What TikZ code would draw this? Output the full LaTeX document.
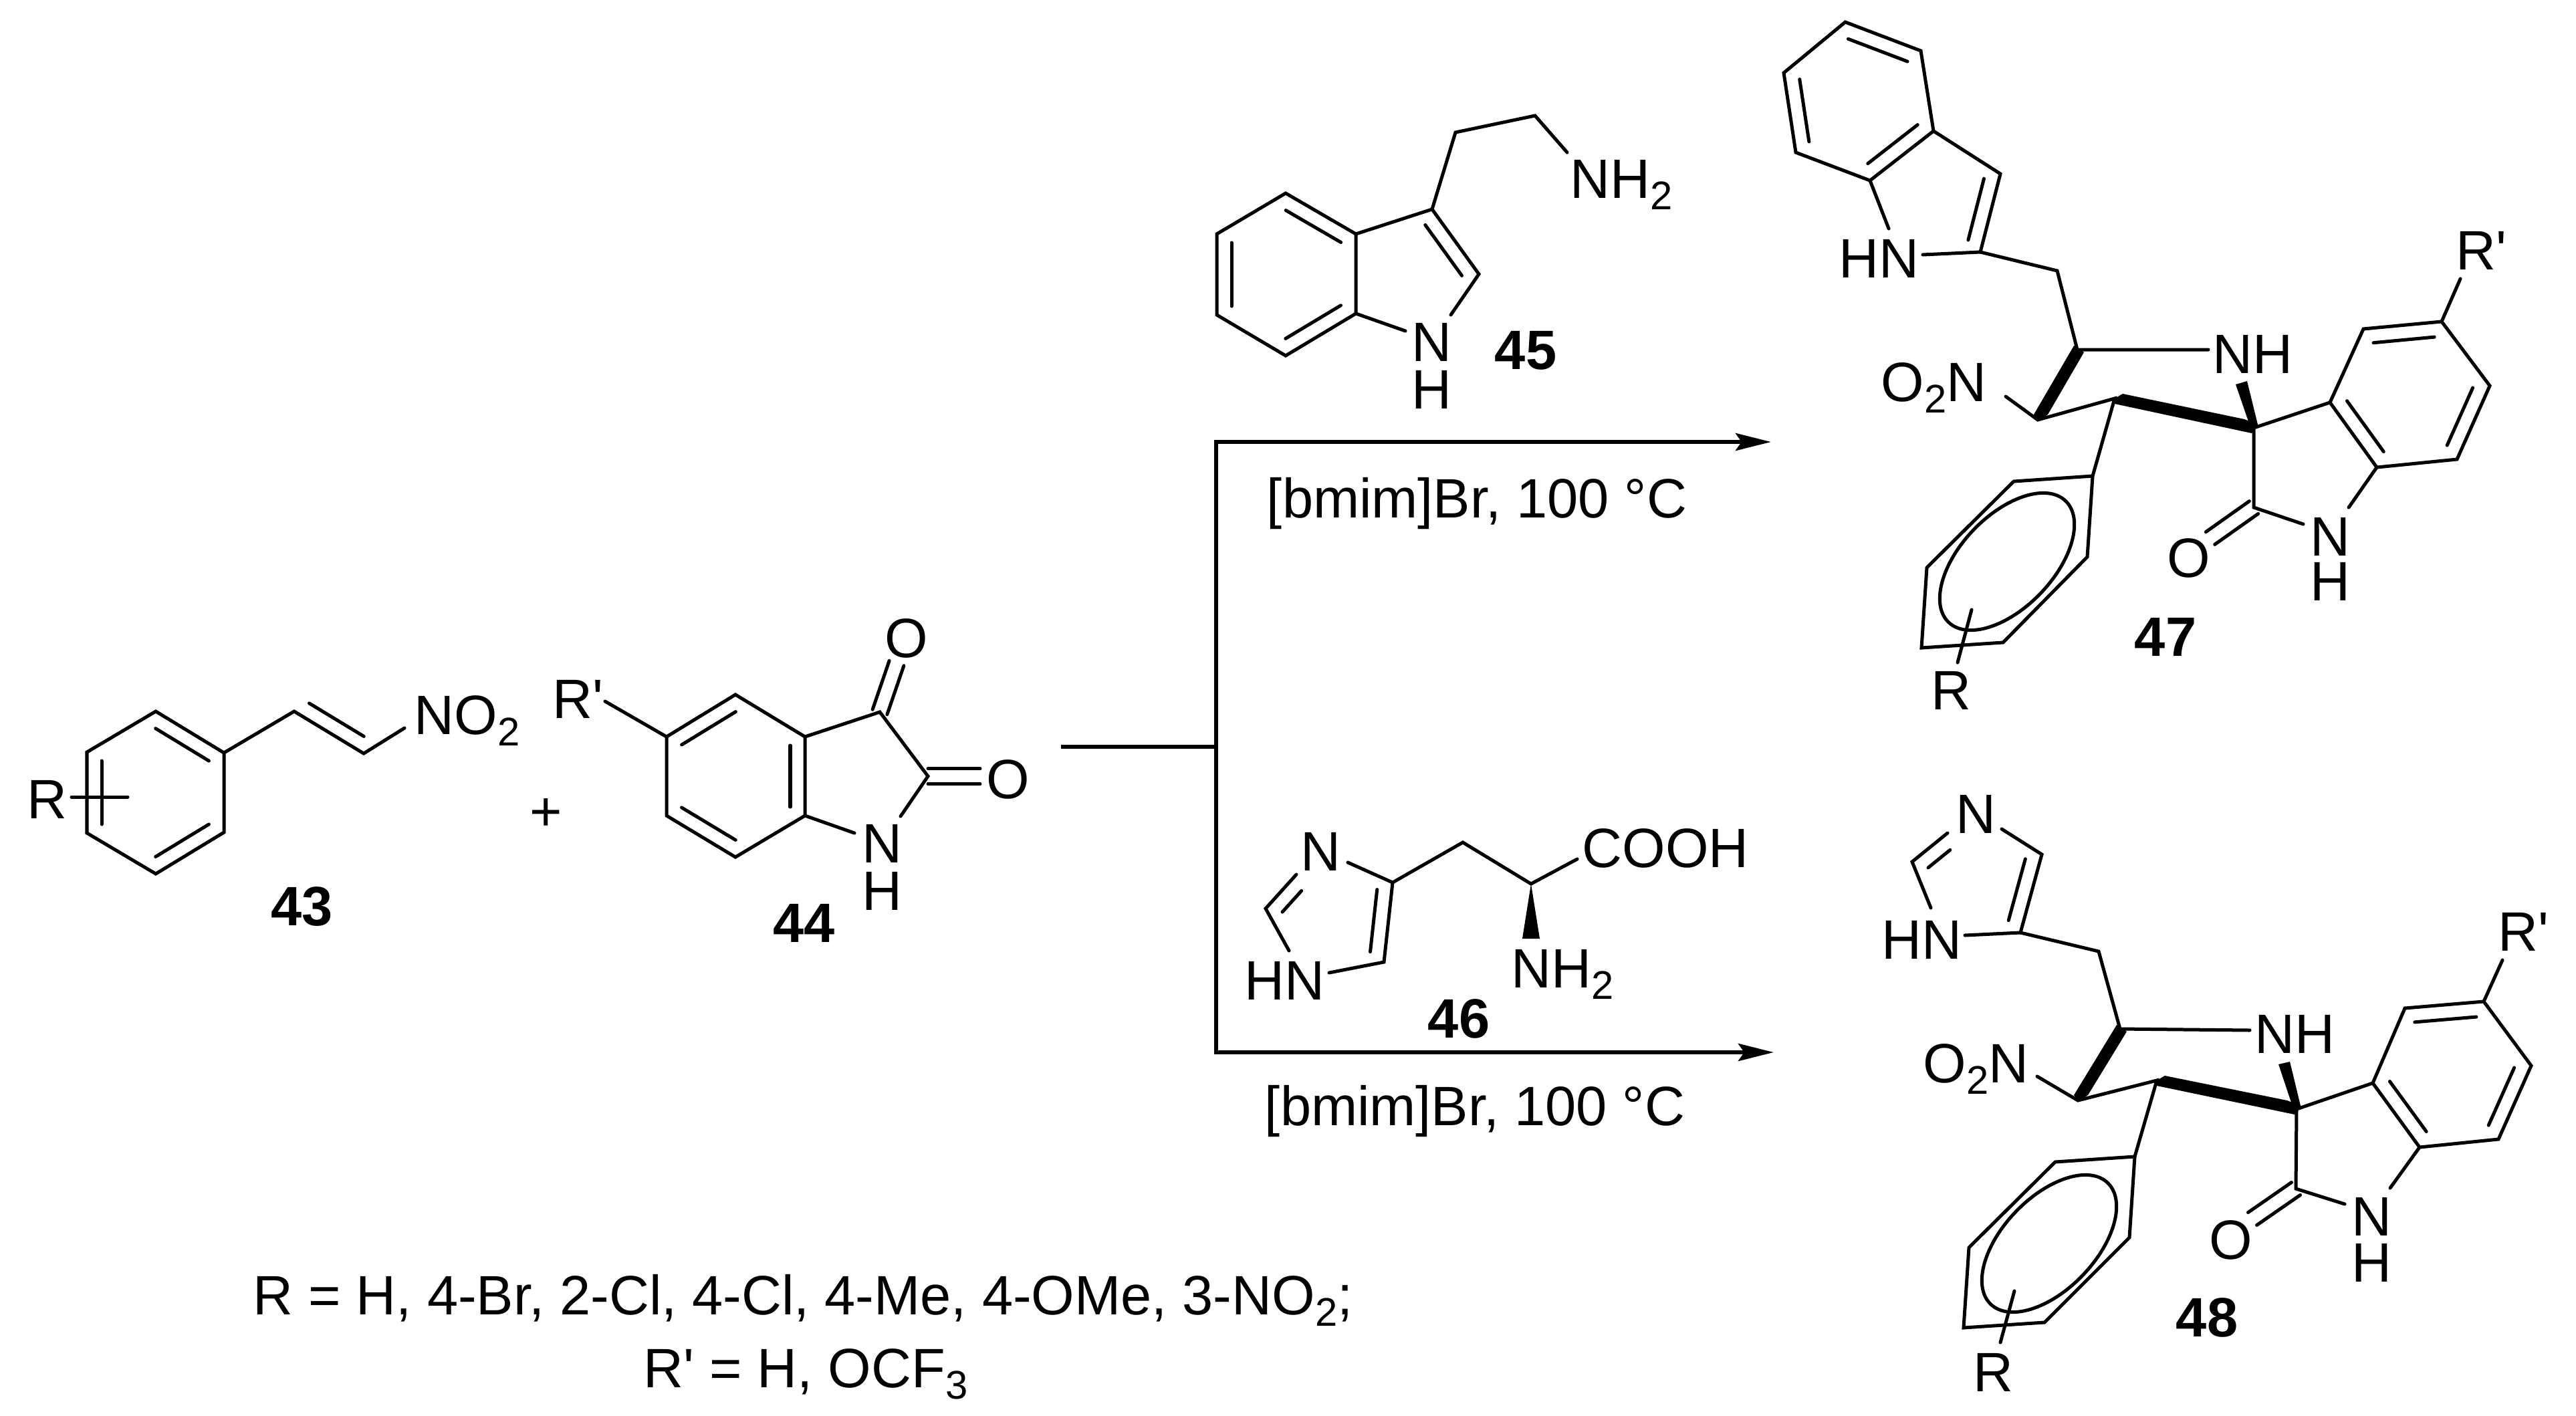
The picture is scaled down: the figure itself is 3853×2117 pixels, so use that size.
\documentclass[tikz,border=0pt]{standalone}
\usepackage{fontspec}
\usetikzlibrary{arrows.meta,calc}
\newfontfamily\chemfont{Liberation Sans}
\newcommand{\nsub}[1]{\raisebox{-0.17cm}{\fontsize{17}{17}\selectfont #1}}
\newcommand{\dbl}[2]{\draw[bond,shorten <=0.13cm,shorten >=0.13cm] ($(#1)!0.22cm!90:(#2)$) -- ($(#2)!0.22cm!-90:(#1)$);}
\newcommand{\dblo}[2]{\draw[bond] ($(#1)!0.115cm!90:(#2)$) -- ($(#2)!0.115cm!-90:(#1)$);
  \draw[bond] ($(#1)!-0.115cm!90:(#2)$) -- ($(#2)!-0.115cm!-90:(#1)$);}
\tikzset{
  bond/.style={line width=0.05cm,line cap=round},
  rxn/.style={line width=0.06cm},
  atom/.style={inner sep=0,anchor=base,font=\chemfont\fontsize{23.6}{28}\selectfont},
  atoml/.style={atom,anchor=base west},
  cmpd/.style={atom,font=\chemfont\bfseries\fontsize{23.6}{28}\selectfont},
}
\begin{document}
\begin{tikzpicture}[x=0.01cm,y=-0.01cm]
    \useasboundingbox (0,0) rectangle (3853,2117);
    \foreach \n/\x/\y in {43a/233/1064,43b/130/1125,43c/130/1246,43d/233/1307,43e/335/1245,43f/335/1126,
      43g/440/1064,43h/544/1127,43i/605/1089,43j/107/1192,43k/191/1192,
      44a/1100/1039,44b/997/1102,44c/997/1220,44d/1100/1282,44e/1204/1220,44f/1204/1102,
      44g/1316/1065,44h/1388/1161,44i/1347/1221,44j/1278/1246,44k/905/1049,44l/1341/992,44m/1466/1161,
      45a/1923/289,45b/1820/350,45c/1820/471,45d/1923/532,45e/2028/469,45f/2028/350,
      45g/2142/313,45h/2212/410,45i/2170/471,45j/2102/495,45k/2177/198,45l/2296/173,45m/2344/228,
      46a/2083/1320,46b/2070/1439,46c/1893/1359,46d/2016/1290,46e/1988/1455,46f/1928/1422,46g/1939/1308,
      46h/2188/1260,46i/2290/1322,46j/2359/1285,46k/2277/1404,46l/2303/1404} {
      \coordinate (\n) at (\x,\y);
    }
    \foreach \n/\x/\y in {47a/2760/33,47b/2668/109,47c/2686/228,47d/2797/270,47e/2892/196,47f/2873/76,
      47g/2992/260,47h/2962/377,47i/2825/342,47j/2876/381,47k/3077/405,47l/3107/523,47m/3303/523,
      47n/3048/628,47o/3000/593,47p/3163/596,47q/3130/712,47r/3012/720,47s/2882/849,47t/2874/969,
      47u/2996/961,47v/3122/833,47w/3371/640,47x/3371/759,47y/3306/805,47z/3445/784,
      47ba/3485/602,47bb/3535/492,47bc/3652/481,47bd/3724/577,47be/3675/687,47bf/3555/699,
      47rp/3680/417,47nf/3513/759,47ra/2949/912,47rb/2928/991,47ell/3002/840,
      48a/3054/1278,48b/3022/1395,48c/2860/1289,48d/2994/1240,48e/2913/1246,48f/2888/1358,48g/2939/1399,
      48k/3139/1423,48l/3171/1539,48m/3365/1541,48n/3108/1646,48o/3047/1610,48p/3226/1616,48q/3193/1730,
      48r/3074/1738,48s/2945/1866,48t/2937/1986,48u/3058/1978,48v/3185/1851,
      48w/3435/1659,48x/3434/1778,48y/3369/1823,48z/3507/1801,
      48ba/3549/1620,48bb/3597/1508,48bc/3715/1498,48bd/3786/1594,48be/3737/1704,48bf/3619/1716,
      48rp/3743/1436,48nf/3575/1777,48ra/3013/1931,48rb/2992/2008,48ell/3065/1860} {
      \coordinate (\n) at (\x,\y);
    }
    \coordinate (rstart) at (1587,1117);
    \coordinate (rjoin) at (1819,1117);
    \coordinate (rtipa) at (2649,661);
    \coordinate (rtipb) at (2653,1574);
    \draw[rxn] (rstart) -- (rjoin);
    \draw[rxn,-{Stealth[length=0.53cm,width=0.26cm,inset=0.09cm]}] (rjoin) |- (rtipa);
    \draw[rxn,-{Stealth[length=0.53cm,width=0.26cm,inset=0.09cm]}] (rjoin) |- (rtipb);

    \draw[bond] (43a) -- (43b) -- (43c) -- (43d) -- (43e) -- (43f) -- cycle;
    \draw[bond] (43f) -- (43g) -- (43h) -- (43i);
    \draw[bond] (43j) -- (43k);
    \dbl{43b}{43c} \dbl{43d}{43e} \dbl{43f}{43a} \dbl{43g}{43h}
    \node[atoml] (no43) at (619,1098) {NO\nsub{2}};
    \node[atoml] (r43) at (40,1224) {R};
    \node[atom] (plus) at (817,1242) {+};
    \node[cmpd] (c43) at (452,1384) {43};

    \draw[bond] (44a) -- (44b) -- (44c) -- (44d) -- (44e) -- (44f) -- cycle;
    \draw[bond] (44f) -- (44g) -- (44h) -- (44i);
    \draw[bond] (44e) -- (44j);
    \draw[bond] (44b) -- (44k);
    \dbl{44a}{44b} \dbl{44c}{44d} \dbl{44e}{44f}
    \dblo{44g}{44l} \dblo{44h}{44m}
    \node[atoml] (rp44) at (826,1074) {R'};
    \node[atom] (oa44) at (1356,983) {O};
    \node[atom] (ob44) at (1508,1194) {O};
    \node[atom] (n44) at (1319,1290) {N};
    \node[atom] (h44) at (1319,1361) {H};
    \node[cmpd] (c44) at (1203,1409) {44};

    \draw[bond] (45a) -- (45b) -- (45c) -- (45d) -- (45e) -- (45f) -- cycle;
    \draw[bond] (45f) -- (45g) -- (45h) -- (45i);
    \draw[bond] (45e) -- (45j);
    \draw[bond] (45g) -- (45k) -- (45l) -- (45m);
    \dbl{45b}{45c} \dbl{45d}{45e} \dbl{45f}{45a} \dbl{45h}{45g}
    \node[atoml] (nh45) at (2348,296) {NH\nsub{2}};
    \node[atom] (n45) at (2141,540) {N};
    \node[atom] (h45) at (2141,611) {H};
    \node[cmpd] (c45) at (2282,552) {45};
    \node[atom] (conda) at (2209,774) {[bmim]Br, 100 °C};

    \draw[bond] (46d) -- (46a) -- (46b) -- (46e);
    \draw[bond] (46g) -- (46c) -- (46f);
    \draw[bond] (46a) -- (46h) -- (46i) -- (46j);
    \fill (46i) -- (46k) -- (46l) -- cycle;
    \dbl{46b}{46a} \dbl{46g}{46c}
    \node[atom] (n46) at (1975,1302) {N};
    \node[atoml] (hn46) at (1861,1495) {HN};
    \node[atoml] (cooh) at (2366,1297) {COOH};
    \node[atoml] (nh46) at (2260,1477) {NH\nsub{2}};
    \node[cmpd] (c46) at (2182,1552) {46};
    \node[atom] (condb) at (2206,1683) {[bmim]Br, 100 °C};

    \draw[bond] (47a) -- (47b) -- (47c) -- (47d) -- (47e) -- (47f) -- cycle;
    \draw[bond] (47e) -- (47g) -- (47h) -- (47j);
    \draw[bond] (47d) -- (47i);
    \draw[bond] (47h) -- (47k) -- (47l) -- (47m);
    \draw[bond] (47o) -- (47n) -- (47p) -- (47q);
    \draw[bond] (47q) -- (47r) -- (47s) -- (47t) -- (47u) -- (47v) -- cycle;
    \draw[bond] (47ra) -- (47rb);
    \draw[bond,rotate around={46:(47ell)}] (47ell) ellipse (1.26cm and 0.69cm);
    \draw[bond] (47ba) -- (47bb) -- (47bc) -- (47bd) -- (47be) -- (47bf) -- cycle;
    \draw[bond] (47ba) -- (47w) -- (47x) -- (47z);
    \draw[bond] (47bc) -- (47rp);
    \draw[bond] (47bf) -- (47nf);
    \fill ($(47l)+(-5,-6)$) -- ($(47l)+(10,4)$) -- ($(47n)+(15,-8)$) -- ($(47n)+(0,2)$) -- ($(47n)+(-6,-8)$) -- cycle;
    \fill (47p) -- ($(47p)+(12,-7)$) -- ($(47w)+(-14,-13)$) -- ($(47w)+(6,-5)$) -- ($(47w)+(-3,8)$) -- ($(47p)+(0,8)$) -- cycle;
    \fill ($(47w)+(-27,-65)$) -- ($(47w)+(-10,-70)$) -- ($(47w)+(6,-5)$) -- ($(47w)+(-3,5)$) -- cycle;
    \dbl{47b}{47c} \dbl{47d}{47e} \dbl{47f}{47a} \dbl{47h}{47g}
    \dbl{47bc}{47bb} \dbl{47be}{47bd} \dbl{47ba}{47bf}
    \dblo{47x}{47y}
    \node[atoml] (hn47) at (2750,415) {HN};
    \node[atoml] (nh47) at (3309,558) {NH};
    \node[atoml] (no47) at (2813,600) {O\nsub{2}N};
    \node[atoml] (r47) at (2888,1061) {R};
    \node[atoml] (rp47) at (3673,403) {R'};
    \node[atom] (o47) at (3274,863) {O};
    \node[atom] (n47) at (3485,831) {N};
    \node[atom] (h47) at (3485,898) {H};
    \node[cmpd] (c47) at (3239,981) {47};

    \draw[bond] (48d) -- (48a) -- (48b) -- (48g);
    \draw[bond] (48e) -- (48c) -- (48f);
    \draw[bond] (48b) -- (48k) -- (48l) -- (48m);
    \draw[bond] (48o) -- (48n) -- (48p) -- (48q);
    \draw[bond] (48q) -- (48r) -- (48s) -- (48t) -- (48u) -- (48v) -- cycle;
    \draw[bond] (48ra) -- (48rb);
    \draw[bond,rotate around={46:(48ell)}] (48ell) ellipse (1.26cm and 0.69cm);
    \draw[bond] (48ba) -- (48bb) -- (48bc) -- (48bd) -- (48be) -- (48bf) -- cycle;
    \draw[bond] (48ba) -- (48w) -- (48x) -- (48z);
    \draw[bond] (48bc) -- (48rp);
    \draw[bond] (48bf) -- (48nf);
    \fill ($(48l)+(-5,-6)$) -- ($(48l)+(10,4)$) -- ($(48n)+(15,-8)$) -- ($(48n)+(0,2)$) -- ($(48n)+(-6,-8)$) -- cycle;
    \fill (48p) -- ($(48p)+(12,-7)$) -- ($(48w)+(-14,-13)$) -- ($(48w)+(6,-5)$) -- ($(48w)+(-3,8)$) -- ($(48p)+(0,8)$) -- cycle;
    \fill ($(48w)+(-27,-67)$) -- ($(48w)+(-10,-71)$) -- ($(48w)+(6,-5)$) -- ($(48w)+(-3,5)$) -- cycle;
    \dbl{48b}{48a} \dbl{48e}{48c}
    \dbl{48bc}{48bb} \dbl{48be}{48bd} \dbl{48ba}{48bf}
    \dblo{48x}{48y}
    \node[atom] (n48) at (2955,1246) {N};
    \node[atoml] (hn48) at (2814,1434) {HN};
    \node[atoml] (nh48) at (3372,1575) {NH};
    \node[atoml] (no48) at (2876,1619) {O\nsub{2}N};
    \node[atoml] (r48) at (2951,2081) {R};
    \node[atoml] (rp48) at (3736,1422) {R'};
    \node[atom] (o48) at (3337,1883) {O};
    \node[atom] (na48) at (3547,1848) {N};
    \node[atom] (h48) at (3547,1917) {H};
    \node[cmpd] (c48) at (3301,1999) {48};

    \node[atom] (lista) at (1201,1966) {R = H, 4-Br, 2-Cl, 4-Cl, 4-Me, 4-OMe, 3-NO\nsub{2};};
    \node[atom] (listb) at (1205,2075) {R' = H, OCF\nsub{3}};
\end{tikzpicture}
\end{document}
